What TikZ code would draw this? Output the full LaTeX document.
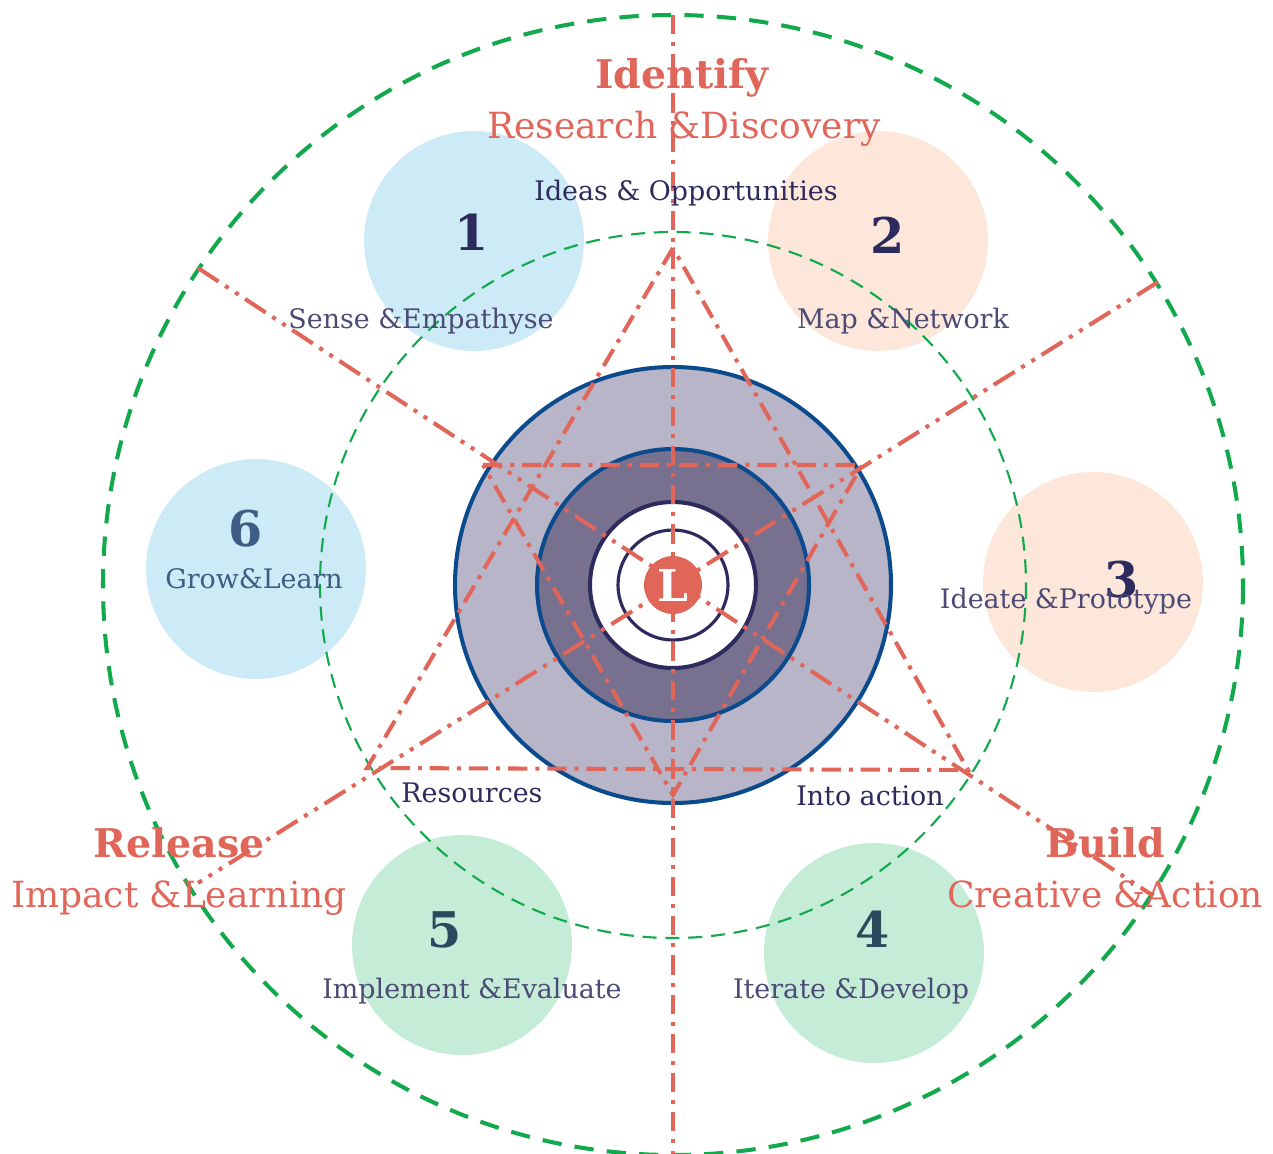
\documentclass[tikz,border=0pt]{standalone}
\usepackage{fontspec}
\setmainfont{DejaVu Serif}

\definecolor{redline}{HTML}{E0665A}
\definecolor{dgreen}{HTML}{12A94C}
\definecolor{lblue}{HTML}{CDEBF7}
\definecolor{lpeach}{HTML}{FCE7DA}
\definecolor{lgreen}{HTML}{C4ECD6}
\definecolor{ringout}{HTML}{B8B5C8}
\definecolor{ringmid}{HTML}{77708F}
\definecolor{ringblue}{HTML}{0B4A8C}
\definecolor{indigo}{HTML}{2D2A5E}
\definecolor{slate}{HTML}{2C4A5E}
\definecolor{steel}{HTML}{3E5D84}

\tikzset{
  stage/.style={circle, minimum size=4.4cm, inner sep=0pt},
  bigtitle/.style={anchor=base, text=redline, font=\bfseries\fontsize{22.5}{26}\selectfont},
  subtitle/.style={anchor=base, text=redline, font=\fontsize{20.5}{24}\selectfont},
  stagenum/.style={anchor=base, font=\bfseries\fontsize{28}{30}\selectfont},
  stagelabel/.style={anchor=base, text=indigo!85!white, font=\fontsize{15.3}{18}\selectfont},
  flowlabel/.style={anchor=base, text=indigo, font=\fontsize{15.3}{18}\selectfont},
  dashdot/.style={redline, line width=2.3pt, dash pattern=on 11pt off 4.5pt on 2.3pt off 4.5pt},
  dashdotdot/.style={redline, line width=2.3pt, dash pattern=on 14pt off 4.5pt on 2.3pt off 4.5pt on 2.3pt off 4.5pt},
}

\begin{document}
\begin{tikzpicture}[x=0.02cm, y=-0.02cm]
  \useasboundingbox (0,0) rectangle (1273,1153);
  \pgfmathsetmacro\rout{570}   % outer green circle
  \pgfmathsetmacro\rin{353}    % inner green circle

  \coordinate (c) at (673,585);

% the six stages
  \node[stage, fill=lblue]  (s1) at (474,241) {};
  \node[stage, fill=lpeach] (s2) at (878,241) {};
  \node[stage, fill=lpeach] (s3) at (1093,582) {};
  \node[stage, fill=lgreen] (s4) at (874,953) {};
  \node[stage, fill=lgreen] (s5) at (462,945) {};
  \node[stage, fill=lblue]  (s6) at (256,569) {};

% green rings
  \draw[dgreen, line width=2.3pt, dash pattern=on 11pt off 7.5pt] (c) circle (\rout);
  \draw[dgreen, line width=1.2pt, dash pattern=on 8pt off 5pt] (c) circle (\rin);

% core
  \filldraw[fill=ringout, draw=ringblue, line width=2.3pt] (c) circle (218);
  \filldraw[fill=ringmid, draw=ringblue, line width=2.3pt] (c) circle (136);
  \filldraw[fill=white, draw=indigo, line width=2.3pt] (c) circle (83);
  \draw[indigo, line width=1.8pt] (c) circle (55);

% axis and spokes
  \coordinate (top) at (673,15);
  \coordinate (bot) at (673,1160);
  \coordinate (ul) at (198,268);
  \coordinate (lr) at (1152,895);
  \coordinate (ur) at (1158,282);
  \coordinate (ll) at (198,883);
  \draw[dashdot] (top) -- (bot);
  \draw[dashdotdot] (ul) -- (lr);
  \draw[dashdotdot] (ur) -- (ll);

% two triangles
  \coordinate (a1) at (673,248);
  \coordinate (a2) at (367,768);
  \coordinate (a3) at (968,770);
  \coordinate (b1) at (483,465);
  \coordinate (b2) at (862,465);
  \coordinate (b3) at (673,795);
  \draw[dashdot] (a1) -- (a2) -- (a3) -- cycle;
  \draw[dashdot] (b1) -- (b2) -- (b3) -- cycle;

  \node[circle, fill=redline, minimum size=1.16cm, inner sep=0pt, text=white,
        font=\bfseries\fontsize{25}{26}\selectfont] (L) at (c) {L};

% phase titles
  \node[bigtitle] (idt) at (682,88) {Identify};
  \node[subtitle] (ids) at (684,138) {Research \&Discovery};
  \node[bigtitle] (rlt) at (179,857) {Release};
  \node[subtitle] (rls) at (179,907) {Impact \&Learning};
  \node[bigtitle] (bdt) at (1105,857) {Build};
  \node[subtitle] (bds) at (1105,907) {Creative \&Action};

% flow labels
  \node[flowlabel] (ideas) at (686,200) {Ideas \& Opportunities};
  \node[flowlabel] (res) at (472,802) {Resources};
  \node[flowlabel] (act) at (870,805) {Into action};

% stage numbers and names
  \node[stagenum, text=indigo] (n1) at (472,250) {1};
  \node[stagenum, text=indigo] (n2) at (888,253) {2};
  \node[stagenum, text=indigo] (n3) at (1122,597) {3};
  \node[stagenum, text=slate]  (n4) at (873,947) {4};
  \node[stagenum, text=slate]  (n5) at (445,947) {5};
  \node[stagenum, text=steel]  (n6) at (246,546) {6};
  \node[stagelabel] (l1) at (421,328) {Sense \&Empathyse};
  \node[stagelabel] (l2) at (903,328) {Map \&Network};
  \node[stagelabel] (l3) at (1066,608) {Ideate \&Prototype};
  \node[stagelabel] (l4) at (851,998) {Iterate \&Develop};
  \node[stagelabel] (l5) at (472,998) {Implement \&Evaluate};
  \node[stagelabel, text=steel] (l6) at (254,588) {Grow\&Learn};
\end{tikzpicture}
\end{document}
